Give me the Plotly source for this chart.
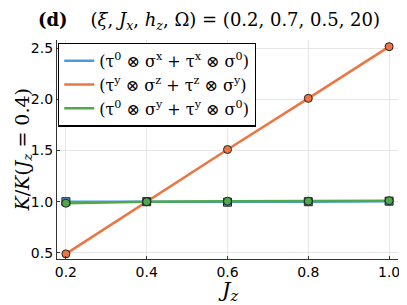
import plotly.graph_objects as go

jz = [0.2, 0.4, 0.6, 0.8, 1.0]
blue_vals = [1.0, 1.0, 0.995, 1.0, 1.005]
orange_vals = [0.49, 1.0, 1.51, 2.01, 2.515]
green_vals = [0.985, 1.0, 1.005, 1.005, 1.01]

names = [
    "(τ<sup>0</sup> ⊗ σ<sup>x</sup> + τ<sup>x</sup> ⊗ σ<sup>0</sup>)",
    "(τ<sup>y</sup> ⊗ σ<sup>z</sup> + τ<sup>z</sup> ⊗ σ<sup>y</sup>)",
    "(τ<sup>0</sup> ⊗ σ<sup>y</sup> + τ<sup>y</sup> ⊗ σ<sup>0</sup>)",
]
colors = ["#4a9be6", "#ec7542", "#4fa84a"]
symbols = ["square", "circle", "circle"]
series = [blue_vals, orange_vals, green_vals]

fig = go.Figure()
for name, col, vals in zip(names, colors, series):
    fig.add_trace(go.Scatter(x=jz, y=vals, mode="lines", name=name,
                             line=dict(color=col, width=2.5)))
for name, col, vals, sym in zip(names, colors, series, symbols):
    fig.add_trace(go.Scatter(x=jz, y=vals, mode="markers", showlegend=False,
                             marker=dict(color=col, symbol=sym, size=8,
                                         line=dict(color="#222222", width=1))))

serif = "DejaVu Serif"
sans = "DejaVu Sans"
fig.update_layout(
    width=399, height=297,
    margin=dict(l=49, r=9, t=32, b=46),
    paper_bgcolor="white", plot_bgcolor="white",
    legend=dict(x=0.003, y=0.988, xanchor="left", yanchor="top",
                bgcolor="white", bordercolor="black", borderwidth=1.2,
                font=dict(family=serif, size=16, color="black"),
                itemwidth=30, tracegroupgap=0),
    showlegend=True,
)
fig.add_annotation(text="<b>(d)</b>    (<i>ξ</i>, <i>J<sub>x</sub></i>, <i>h<sub>z</sub></i>, Ω) = (0.2, 0.7, 0.5, 20)",
                   xref="paper", yref="paper", x=-0.062, y=1.0, xanchor="left", yanchor="bottom",
                   yshift=5, showarrow=False,
                   font=dict(family=serif, size=18, color="black"))
fig.add_annotation(text="<i>J<sub>z</sub></i>", xref="paper", yref="paper",
                   x=0.5, y=0, xanchor="center", yanchor="top", yshift=-17,
                   showarrow=False, font=dict(family=serif, size=21, color="black"))
fig.add_annotation(text="<i>K</i>/<i>K</i>(<i>J<sub>z</sub></i> = 0.4)", xref="paper", yref="paper",
                   x=0, y=0.5, xanchor="center", yanchor="middle", xshift=-34, textangle=-90,
                   showarrow=False, font=dict(family=serif, size=19, color="black"))
fig.update_xaxes(range=[0.178, 1.022], tickvals=[0.2, 0.4, 0.6, 0.8, 1.0],
                 ticktext=["0.2", "0.4", "0.6", "0.8", "1.0"], automargin=False,
                 showgrid=True, gridcolor="#e6e6e6", gridwidth=1,
                 showline=True, linecolor="#333333", linewidth=1.2, mirror=False,
                 ticks="inside", ticklen=3, tickcolor="#333333",
                 tickfont=dict(family=sans, size=14, color="black"),
                 zeroline=False)
fig.update_yaxes(range=[0.44, 2.58], tickvals=[0.5, 1.0, 1.5, 2.0, 2.5],
                 ticktext=["0.5", "1.0", "1.5", "2.0", "2.5"], automargin=False,
                 showgrid=True, gridcolor="#e6e6e6", gridwidth=1,
                 showline=True, linecolor="#333333", linewidth=1.2, mirror=False,
                 ticks="inside", ticklen=3, tickcolor="#333333",
                 tickfont=dict(family=sans, size=14, color="black"),
                 zeroline=False)

fig.write_html("out.html")
